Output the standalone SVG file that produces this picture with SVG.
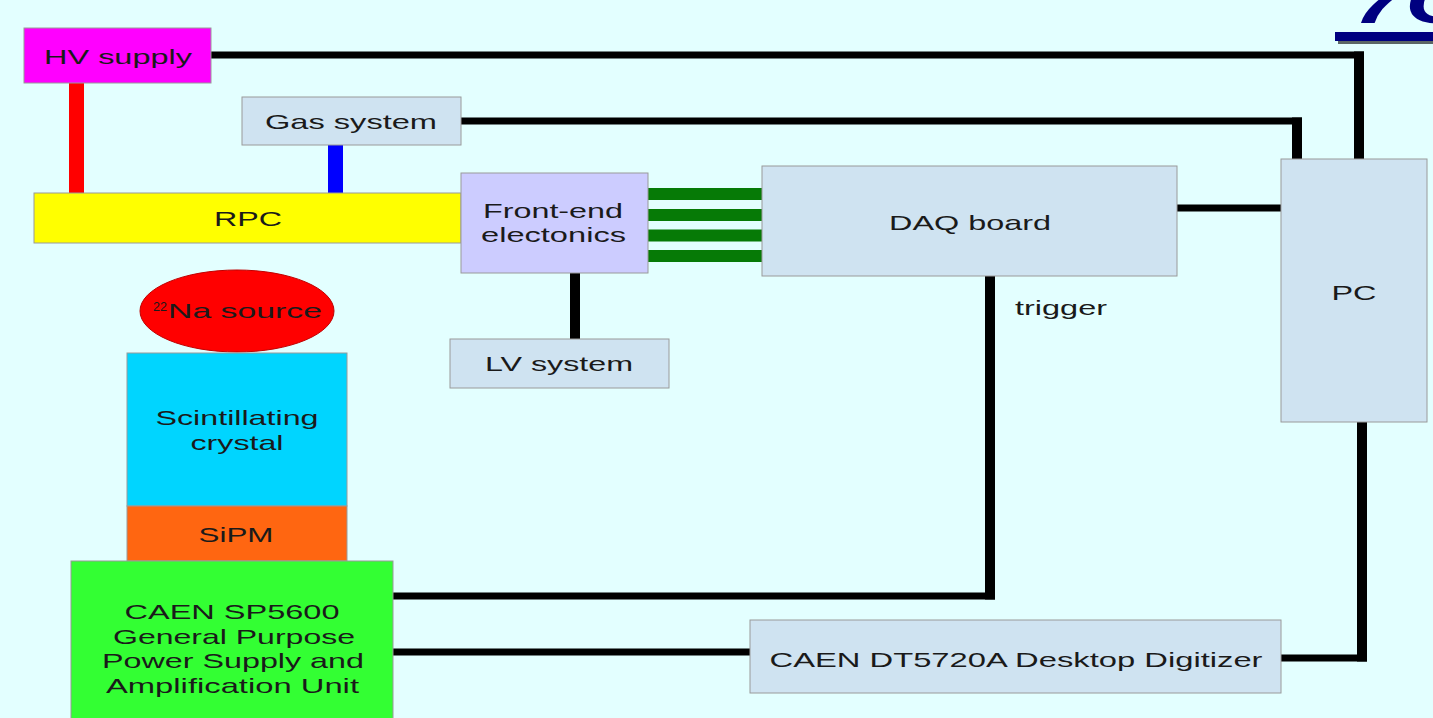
<svg xmlns="http://www.w3.org/2000/svg" width="1433" height="718" viewBox="0 0 1433 718">
<style>
.t{font-family:"Liberation Sans",Arial,sans-serif;font-size:21px;fill:#1a1a1a;text-anchor:middle}
.box{stroke:#9a9a9a;stroke-width:1}
.lb{fill:#cfe3f1}
.h{stroke:#000;stroke-width:7;fill:none}
.v{stroke:#000;stroke-width:10;fill:none}
.g{stroke:#067a06;stroke-width:12}
.title{font-family:"Liberation Sans",Arial,sans-serif;font-size:60px;font-style:italic;font-weight:bold}
</style>
<rect x="0" y="0" width="1433" height="718" fill="#e3ffff"/>

<g id="title-fragment">
<text class="title" x="1353" y="23" fill="#000080" textLength="120" lengthAdjust="spacingAndGlyphs">7C</text>
<rect x="1338" y="35" width="95" height="9" fill="#000" opacity="0.6"/>
<rect x="1335" y="32" width="98" height="9" fill="#000080"/>
</g>

<g id="connectors">
<line class="h" x1="211" y1="55" x2="1364" y2="55"/>
<line class="v" x1="1359" y1="51.5" x2="1359" y2="159"/>
<line class="h" x1="461" y1="121" x2="1302" y2="121"/>
<line class="v" x1="1297" y1="117.5" x2="1297" y2="159"/>
<line class="h" x1="1177" y1="208" x2="1282" y2="208"/>
<line class="v" x1="575" y1="273" x2="575" y2="339"/>
<line class="v" x1="990" y1="276" x2="990" y2="599.5"/>
<line class="h" x1="393" y1="596" x2="995" y2="596"/>
<line class="h" x1="393" y1="652" x2="750" y2="652"/>
<line class="h" x1="1281" y1="658" x2="1367" y2="658"/>
<line class="v" x1="1362" y1="422" x2="1362" y2="661.5"/>
<line x1="76.5" y1="83" x2="76.5" y2="193" stroke="#ff0000" stroke-width="15"/>
<line x1="335.5" y1="145" x2="335.5" y2="193" stroke="#0000ff" stroke-width="15"/>
<line class="g" x1="648" y1="194" x2="762" y2="194"/>
<line class="g" x1="648" y1="215" x2="762" y2="215"/>
<line class="g" x1="648" y1="235.5" x2="762" y2="235.5"/>
<line class="g" x1="648" y1="256" x2="762" y2="256"/>
<text class="t" x="1061" y="315" textLength="92" lengthAdjust="spacingAndGlyphs">trigger</text>
</g>

<g id="hv-supply">
<rect class="box" x="24" y="28" width="187" height="55" fill="#ff00ff"/>
<text class="t" x="118" y="64" textLength="148" lengthAdjust="spacingAndGlyphs">HV supply</text>
</g>

<g id="gas-system">
<rect class="box lb" x="242" y="97" width="219" height="48"/>
<text class="t" x="351" y="129" textLength="172" lengthAdjust="spacingAndGlyphs">Gas system</text>
</g>

<g id="rpc">
<rect class="box" x="34" y="193" width="427" height="50" fill="#ffff00"/>
<text class="t" x="248" y="226" textLength="68" lengthAdjust="spacingAndGlyphs">RPC</text>
</g>

<g id="front-end">
<rect class="box" x="461" y="173" width="187" height="100" fill="#ccccff"/>
<text class="t" x="553" y="218" textLength="140" lengthAdjust="spacingAndGlyphs">Front-end</text>
<text class="t" x="553.5" y="242" textLength="145" lengthAdjust="spacingAndGlyphs">electonics</text>
</g>

<g id="daq-board">
<rect class="box lb" x="762" y="166" width="415" height="110"/>
<text class="t" x="970" y="230" textLength="162" lengthAdjust="spacingAndGlyphs">DAQ board</text>
</g>

<g id="pc">
<rect class="box lb" x="1281" y="159" width="146" height="263"/>
<text class="t" x="1354" y="300" textLength="45" lengthAdjust="spacingAndGlyphs">PC</text>
</g>

<g id="lv-system">
<rect class="box lb" x="450" y="339" width="219" height="49"/>
<text class="t" x="559" y="371" textLength="148" lengthAdjust="spacingAndGlyphs">LV system</text>
</g>

<g id="na-source">
<ellipse cx="237" cy="311" rx="97" ry="41" fill="#ff0000" stroke="#c00000" stroke-width="1"/>
<text class="t" x="237" y="318" style="text-anchor:start"><tspan x="153" dy="-7" font-size="12" textLength="14" lengthAdjust="spacingAndGlyphs">22</tspan><tspan x="168" dy="7" textLength="154" lengthAdjust="spacingAndGlyphs">Na source</tspan></text>
</g>

<g id="crystal">
<rect class="box" x="127" y="353" width="220" height="153" fill="#00d5ff"/>
<text class="t" x="237" y="425" textLength="163" lengthAdjust="spacingAndGlyphs">Scintillating</text>
<text class="t" x="237" y="450" textLength="93" lengthAdjust="spacingAndGlyphs">crystal</text>
</g>

<g id="sipm">
<rect class="box" x="127" y="506" width="220" height="55" fill="#ff6611"/>
<text class="t" x="236" y="542" textLength="75" lengthAdjust="spacingAndGlyphs">SiPM</text>
</g>

<g id="caen-sp5600">
<rect class="box" x="71" y="561" width="322" height="170" fill="#33ff33"/>
<text class="t" x="232" y="619" textLength="215" lengthAdjust="spacingAndGlyphs">CAEN SP5600</text>
<text class="t" x="234" y="644" textLength="242" lengthAdjust="spacingAndGlyphs">General Purpose</text>
<text class="t" x="233" y="668" textLength="262" lengthAdjust="spacingAndGlyphs">Power Supply and</text>
<text class="t" x="232.5" y="693" textLength="253" lengthAdjust="spacingAndGlyphs">Amplification Unit</text>
</g>

<g id="digitizer">
<rect class="box lb" x="750" y="620" width="531" height="73"/>
<text class="t" x="1016" y="667" textLength="493" lengthAdjust="spacingAndGlyphs">CAEN DT5720A Desktop Digitizer</text>
</g>
</svg>
